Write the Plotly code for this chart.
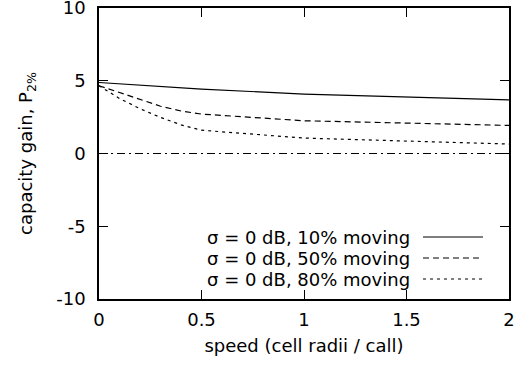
import plotly.graph_objects as go

speed = [0.0, 0.1, 0.2, 0.3, 0.4, 0.5, 1.0, 1.5, 2.0]
gain_10 = [4.88, 4.78, 4.68, 4.60, 4.51, 4.43, 4.08, 3.88, 3.69]
gain_50 = [4.66, 4.20, 3.72, 3.25, 2.92, 2.71, 2.25, 2.08, 1.93]
gain_80 = [4.66, 3.78, 3.08, 2.48, 1.97, 1.60, 1.06, 0.83, 0.65]
zero_x = [0.0, 2.0]
zero_y = [0.0, 0.0]

labels = ["σ = 0 dB, 10% moving", "σ = 0 dB, 50% moving", "σ = 0 dB, 80% moving"]
dashes = ["solid", "6px,4px", "3px,4px"]
series = [gain_10, gain_50, gain_80]

x_ticks = [0, 0.5, 1, 1.5, 2]
x_ticktext = ["0", "0.5", "1", "1.5", "2"]
y_ticks = [-10, -5, 0, 5, 10]
y_ticktext = ["-10", "-5", "0", "5", "10"]

FONT = "DejaVu Sans"
L, R, T, B = 99, 22, 8, 73
W, H = 531, 372
PW, PH = W - L - R, H - T - B

fig = go.Figure()

fig.add_trace(go.Scatter(x=zero_x, y=zero_y, mode="lines",
                         line=dict(color="black", width=1, dash="8px,4px,2px,4px"),
                         showlegend=False, hoverinfo="skip"))
for ys, d in zip(series, dashes):
    fig.add_trace(go.Scatter(x=speed, y=ys, mode="lines",
                             line=dict(color="black", width=1.2, dash=d),
                             showlegend=False))

# gnuplot-style legend: text right-aligned, line sample on the right
row_y = [237, 258, 279]
for lab, d, ry in zip(labels, dashes, row_y):
    yp = (H - B - ry) / PH
    fig.add_annotation(x=(412 - L) / PW, y=yp, xref="paper", yref="paper",
                       text=lab, showarrow=False, xanchor="right", yanchor="middle",
                       font=dict(family=FONT, size=18, color="black"))
    fig.add_shape(type="line", xref="paper", yref="paper",
                  x0=(423 - L) / PW, x1=(483 - L) / PW, y0=yp, y1=yp,
                  line=dict(color="black", width=1.2, dash=d))

axis_common = dict(showline=True, linecolor="black", linewidth=1.5, mirror="ticks",
                   ticks="inside", ticklen=9, tickwidth=1.2, tickcolor="black",
                   showgrid=False, zeroline=False, ticklabeloverflow="allow",
                   tickfont=dict(family=FONT, size=18, color="black"))

fig.update_xaxes(range=[0, 2], tickvals=x_ticks, ticktext=x_ticktext,
                 title=dict(text="speed (cell radii / call)", standoff=10,
                            font=dict(family=FONT, size=18, color="black")),
                 ticklabelstandoff=4, **axis_common)
fig.update_yaxes(range=[-10, 10], tickvals=y_ticks, ticktext=y_ticktext,
                 title=dict(text="capacity gain, P<sub>2%</sub>", standoff=19,
                            font=dict(family=FONT, size=18, color="black")),
                 ticklabelstandoff=8, **axis_common)

fig.update_layout(width=W, height=H,
                  margin=dict(l=L, r=R, t=T, b=B, autoexpand=False),
                  plot_bgcolor="white", paper_bgcolor="white",
                  font=dict(family=FONT, size=18, color="black"))

fig.write_html("out.html")
